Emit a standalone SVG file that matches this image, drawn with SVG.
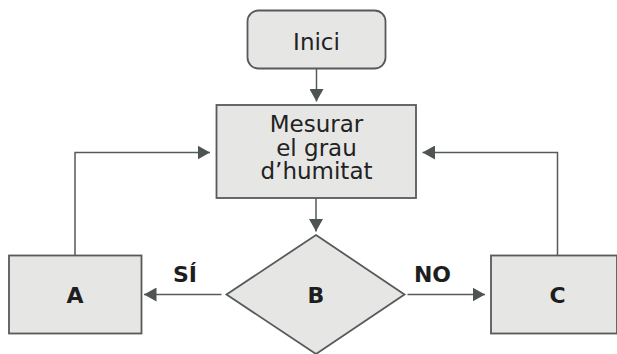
<svg xmlns="http://www.w3.org/2000/svg" width="617" height="354" viewBox="0 0 617 354">
  <style>
    .box { fill: #e6e7e5; stroke: #565a5b; stroke-width: 1.8; }
    .line { fill: none; stroke: #565a5b; stroke-width: 1.5; }
    .txt { font-family: "DejaVu Sans", Verdana, sans-serif; font-size: 23px; fill: #222; text-anchor: middle; }
    .bold { font-family: "DejaVu Sans", Verdana, sans-serif; font-size: 22px; font-weight: bold; fill: #1e1e1e; text-anchor: middle; }
  </style>
  <defs>
    <marker id="arrow" markerUnits="userSpaceOnUse" markerWidth="13" markerHeight="14" refX="12.5" refY="7" orient="auto">
      <path d="M0,0 L12.5,7 L0,14 Z" fill="#4e5354"/>
    </marker>
  </defs>

  <!-- connectors -->
  <g id="connectors">
    <line class="line" x1="316.5" y1="68.5" x2="316.5" y2="101.5" marker-end="url(#arrow)"/>
    <line class="line" x1="316" y1="198" x2="316" y2="231.5" marker-end="url(#arrow)"/>
    <line class="line" x1="221.5" y1="294.5" x2="144" y2="294.5" marker-end="url(#arrow)"/>
    <line class="line" x1="407.5" y1="294.5" x2="485" y2="294.5" marker-end="url(#arrow)"/>
    <polyline class="line" points="75,255.5 75,152.5 210,152.5" marker-end="url(#arrow)"/>
    <polyline class="line" points="557.5,255.5 557.5,152.5 422.5,152.5" marker-end="url(#arrow)"/>
  </g>

  <!-- edge labels -->
  <g id="labels">
    <text class="bold" x="185" y="281.5">SÍ</text>
    <text class="bold" x="432.5" y="281.5">NO</text>
  </g>

  <g id="inici">
    <rect class="box" x="247.5" y="10.5" width="138" height="58" rx="11" ry="11"/>
    <text class="txt" x="316.5" y="50">Inici</text>
  </g>

  <g id="mesurar">
    <rect class="box" x="216.5" y="105" width="199.5" height="93"/>
    <text class="txt" x="316.5" y="132">Mesurar</text>
    <text class="txt" x="316.5" y="155.5">el grau</text>
    <text class="txt" x="316.5" y="179">d’humitat</text>
  </g>

  <g id="b">
    <polygon class="box" points="316,235 404.5,294.5 316,354 226.5,294.5"/>
    <text class="bold" x="316" y="302.5">B</text>
  </g>

  <g id="a">
    <rect class="box" x="9" y="255.5" width="132.5" height="78"/>
    <text class="bold" x="75" y="303">A</text>
  </g>

  <g id="c">
    <rect class="box" x="491" y="255.5" width="126" height="78"/>
    <text class="bold" x="557.5" y="303">C</text>
  </g>
</svg>
